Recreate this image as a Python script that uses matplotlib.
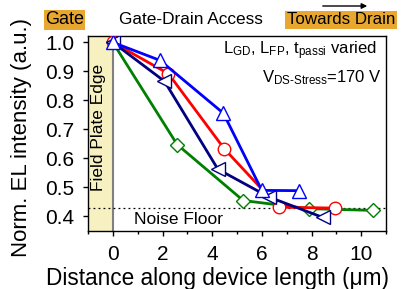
import matplotlib
matplotlib.use("Agg")
import matplotlib.pyplot as plt

plt.rcParams['font.family'] = ['Liberation Sans', 'DejaVu Sans']
plt.rcParams['mathtext.fontset'] = 'custom'
plt.rcParams['mathtext.rm'] = 'Liberation Sans'
plt.rcParams['mathtext.it'] = 'Liberation Sans:italic'
plt.rcParams['mathtext.bf'] = 'Liberation Sans:bold'

# Data
blue_x = [0, 1.9, 4.45, 6.0, 7.5]
blue_y = [1.0, 0.938, 0.756, 0.49, 0.489]
red_x = [0, 2.24, 4.49, 6.68, 8.96]
red_y = [1.0, 0.892, 0.633, 0.432, 0.429]
navy_x = [0, 2.08, 4.23, 6.29, 8.45]
navy_y = [1.0, 0.866, 0.563, 0.467, 0.397]
green_x = [0, 2.59, 5.25, 7.89, 10.49]
green_y = [1.0, 0.648, 0.455, 0.427, 0.421]
noise_floor = 0.43
xticks = [0, 2, 4, 6, 8, 10]
yticks = [0.4, 0.5, 0.6, 0.7, 0.8, 0.9, 1.0]

W, H = 401, 289
fig = plt.figure(figsize=(W / 100, H / 100), dpi=100)
ax = fig.add_axes([88 / W, 1 - 231 / H, 298 / W, 195 / H])

ax.axvspan(-1, 0, color='#F7F1C2', zorder=0, lw=0)
ax.axvline(0, color='#808080', lw=1.5, zorder=1)
ax.axhline(noise_floor, color='black', lw=0.9, ls=(0, (1.5, 2.5)), zorder=1)

ms = 9
lw = 2.0
ax.plot(green_x, green_y, color='#008000', lw=lw, marker='D', ms=7.5, mfc='white', mec='#008000', mew=1.0, zorder=3)
ax.plot(red_x, red_y, color='#FF0000', lw=lw, marker='o', ms=ms, mfc='white', mec='#FF0000', mew=1.0, zorder=4)
ax.plot(navy_x, navy_y, color='#000080', lw=lw, marker='<', ms=ms + 1, mfc='white', mec='#000080', mew=1.0, zorder=5)
ax.plot(blue_x, blue_y, color='#0000FF', lw=lw, marker='^', ms=ms + 1, mfc='white', mec='#0000FF', mew=1.0, zorder=6)

ax.set_xlim(-1, 11)
ax.set_ylim(0.35, 1.022)
ax.set_xticks(xticks)
ax.set_xticks([-1, 1, 3, 5, 7, 9, 11], minor=True)
ax.set_yticks(yticks)
ax.set_yticklabels([f'{v:.1f}' for v in yticks])
ax.tick_params(axis='both', which='major', direction='out', length=3.5, width=1, labelsize=15, pad=6.5)
ax.tick_params(axis='x', which='minor', direction='out', length=2.5, width=1)
ax.tick_params(axis='y', which='minor', left=False)
for s in ax.spines.values():
    s.set_linewidth(1.0)

fig.text(218 / W, 1 - 285 / H, 'Distance along device length (μm)', fontsize=16.3,
         ha='center', va='baseline')
fig.text(22 / W, 1 - 137.5 / H, 'Norm. EL intensity (a.u.)', fontsize=16,
         ha='center', va='center', rotation=90)

ax.text(-0.56, 0.706, 'Field Plate Edge', rotation=90, ha='center', va='center', fontsize=12.5)
ax.text(0.84, 0.389, 'Noise Floor', ha='left', va='center', fontsize=12.5)
ax.text(10.64, 0.958, r'L$_{\mathrm{GD}}$, L$_{\mathrm{FP}}$, t$_{\mathrm{passi}}$ varied',
        ha='right', va='baseline', fontsize=12)
ax.text(10.84, 0.864, r'V$_{\mathrm{DS\text{-}Stress}}$=170 V', ha='right', va='baseline', fontsize=12)

orange = '#E8A830'
fig.text(64.5 / W, 1 - 20 / H, 'Gate', ha='center', va='center', fontsize=13,
         bbox=dict(facecolor=orange, edgecolor='none', pad=1.0))
fig.text(191 / W, 1 - 20 / H, 'Gate-Drain Access', ha='center', va='center', fontsize=12.4)
fig.text(341 / W, 1 - 20 / H, 'Towards Drain', ha='center', va='center', fontsize=12.2,
         bbox=dict(facecolor=orange, edgecolor='none', pad=1.0))
fig.patches.append(matplotlib.patches.FancyArrowPatch((320 / W, 1 - 6 / H), (370 / W, 1 - 6 / H),
    transform=fig.transFigure, arrowstyle='-|>', mutation_scale=8, color='black', lw=1))

fig.savefig('out.png', dpi=100)
